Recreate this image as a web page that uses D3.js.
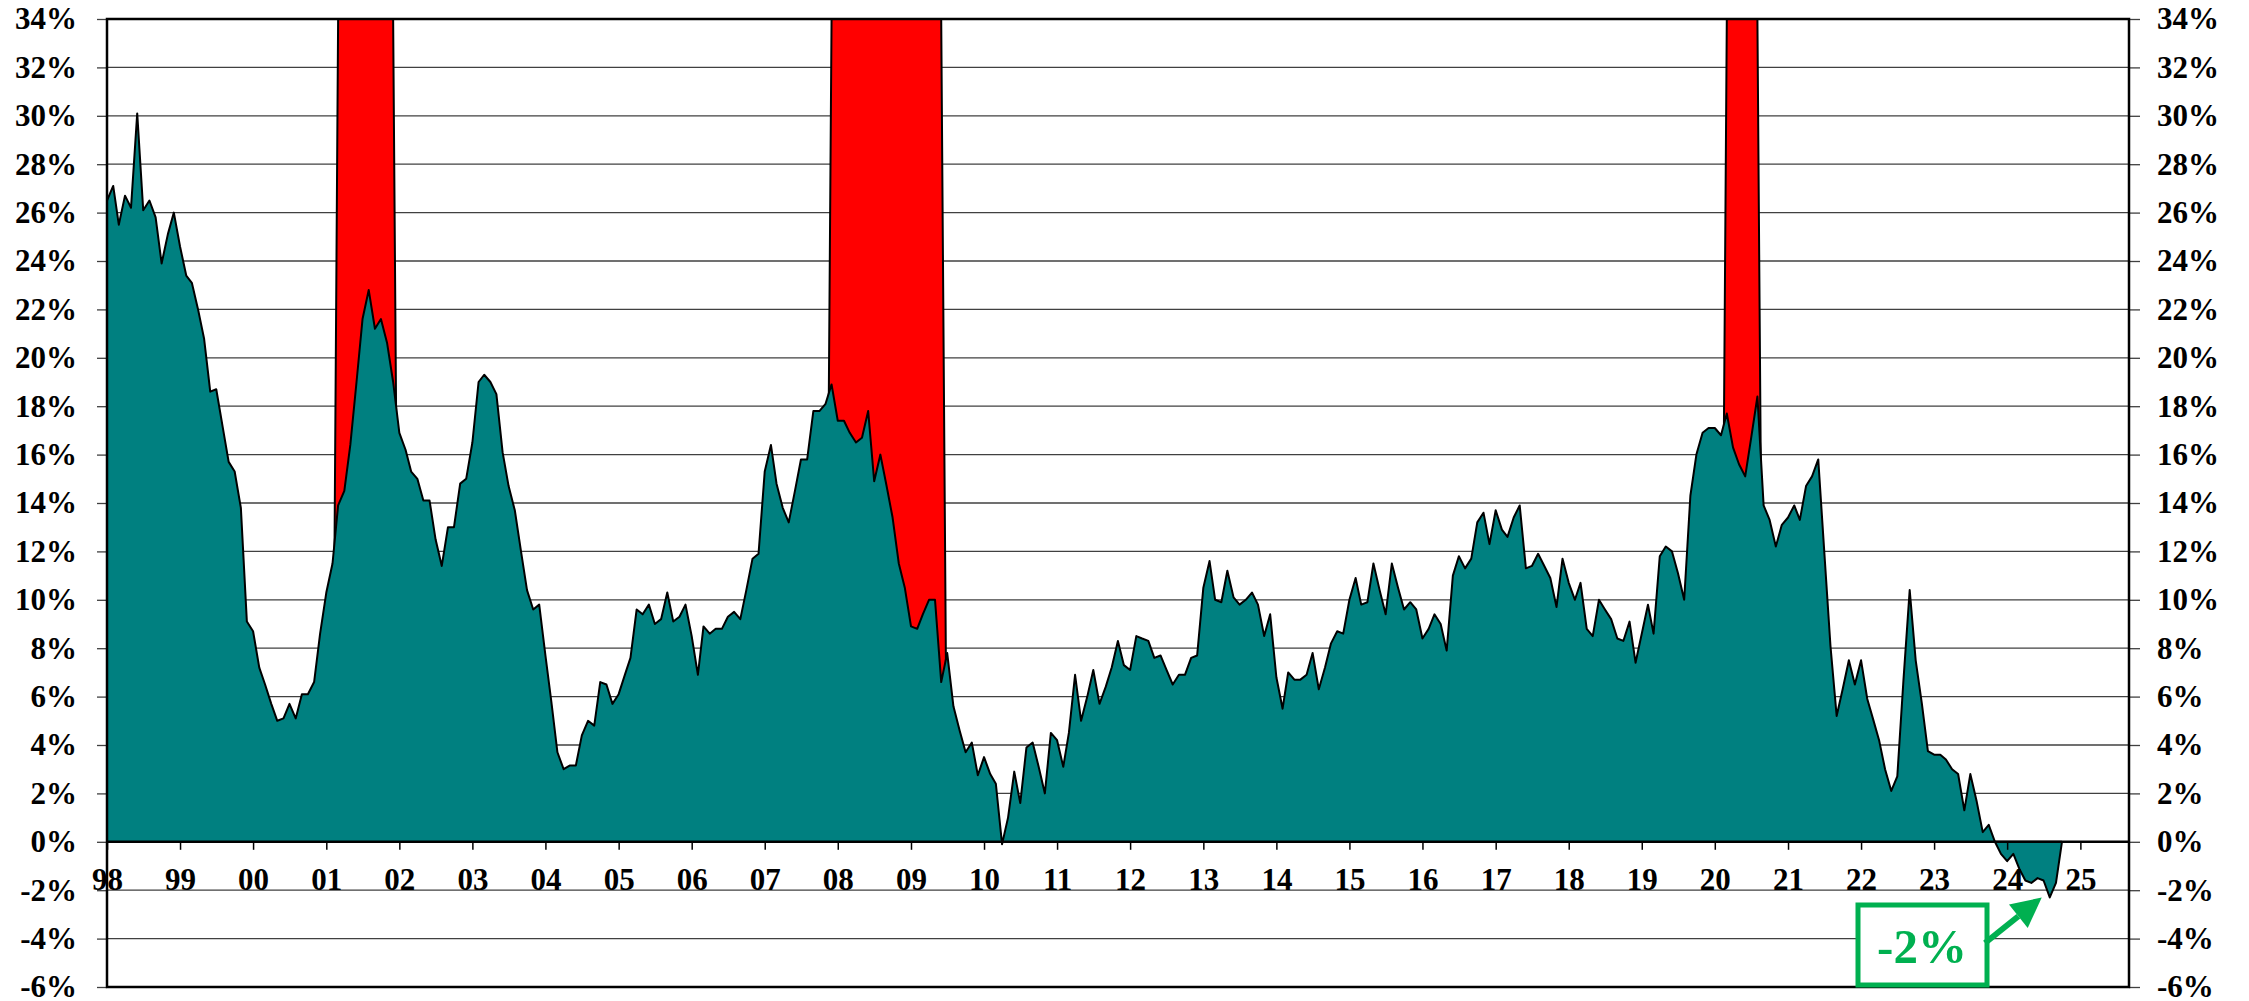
<!DOCTYPE html>
<html>
<head>
<meta charset="utf-8">
<script src="https://cdn.jsdelivr.net/npm/d3@7"></script>
<style>
  html, body { margin: 0; padding: 0; background: #fff; }
  svg { display: block; font-family: 'Liberation Serif', 'Times New Roman', serif; font-weight: bold; }
</style>
</head>
<body>
<svg id="chart" width="2249" height="1001"></svg>
<script>
// Monthly growth rate in %, starting Jan 1998, one row per year
const firstMonth = "1998-01";
const axisEnd = "2025-09";
const growth = [
  26.5, 27.1, 25.5, 26.7, 26.2, 30.1, 26.1, 26.5, 25.8, 23.9, 25.1, 26.0,
  24.6, 23.4, 23.1, 22.0, 20.8, 18.6, 18.7, 17.2, 15.7, 15.3, 13.8, 9.1,
  8.7, 7.2, 6.5, 5.7, 5.0, 5.1, 5.7, 5.1, 6.1, 6.1, 6.6, 8.6,
  10.3, 11.5, 13.9, 14.5, 16.4, 19.0, 21.6, 22.8, 21.2, 21.6, 20.6, 19.0,
  16.9, 16.2, 15.3, 15.0, 14.1, 14.1, 12.5, 11.4, 13.0, 13.0, 14.8, 15.0,
  16.5, 19.0, 19.3, 19.0, 18.5, 16.1, 14.7, 13.7, 12.0, 10.4, 9.6, 9.8,
  7.7, 5.7, 3.7, 3.0, 3.15, 3.15, 4.4, 5.0, 4.8, 6.6, 6.5, 5.7,
  6.1, 6.9, 7.6, 9.6, 9.4, 9.8, 9.0, 9.2, 10.3, 9.1, 9.3, 9.8,
  8.5, 6.9, 8.9, 8.6, 8.8, 8.8, 9.3, 9.5, 9.2, 10.4, 11.7, 11.9,
  15.3, 16.4, 14.8, 13.8, 13.2, 14.5, 15.8, 15.8, 17.8, 17.8, 18.1, 18.9,
  17.4, 17.4, 16.9, 16.5, 16.7, 17.8, 14.9, 16.0, 14.7, 13.4, 11.5, 10.5,
  8.9, 8.8, 9.4, 10.0, 10.0, 6.6, 7.8, 5.6, 4.6, 3.7, 4.1, 2.75,
  3.5, 2.8, 2.4, -0.1, 1.0, 2.9, 1.6, 3.9, 4.1, 3.1, 2.0, 4.5,
  4.2, 3.1, 4.5, 6.9, 5.0, 6.0, 7.1, 5.7, 6.4, 7.2, 8.3, 7.3,
  7.1, 8.5, 8.4, 8.3, 7.6, 7.7, 7.1, 6.5, 6.9, 6.9, 7.6, 7.7,
  10.5, 11.6, 10.0, 9.9, 11.2, 10.1, 9.8, 10.0, 10.3, 9.8, 8.5, 9.4,
  6.8, 5.5, 7.0, 6.7, 6.7, 6.9, 7.8, 6.3, 7.2, 8.2, 8.7, 8.6,
  10.0, 10.9, 9.8, 9.9, 11.5, 10.4, 9.4, 11.5, 10.5, 9.6, 9.9, 9.6,
  8.4, 8.8, 9.4, 9.0, 7.9, 11.0, 11.8, 11.3, 11.7, 13.2, 13.6, 12.3,
  13.7, 12.9, 12.6, 13.4, 13.9, 11.3, 11.4, 11.9, 11.4, 10.9, 9.7, 11.7,
  10.7, 10.0, 10.7, 8.8, 8.5, 10.0, 9.6, 9.2, 8.4, 8.3, 9.1, 7.4,
  8.6, 9.8, 8.6, 11.8, 12.2, 12.0, 11.1, 10.0, 14.3, 16.0, 16.9, 17.1,
  17.1, 16.8, 17.7, 16.3, 15.6, 15.1, 16.7, 18.4, 13.9, 13.3, 12.2, 13.1,
  13.4, 13.9, 13.3, 14.7, 15.1, 15.8, 12.0, 8.1, 5.2, 6.3, 7.5, 6.5,
  7.5, 5.9, 5.1, 4.2, 3.0, 2.1, 2.7, 6.7, 10.4, 7.5, 5.7, 3.75,
  3.6, 3.6, 3.4, 3.0, 2.8, 1.3, 2.8, 1.7, 0.4, 0.7, 0.0, -0.5,
  -0.8, -0.5, -1.1, -1.6, -1.7, -1.5, -1.6, -2.3, -1.7, 0.0
];

// Shaded periods (first and last month, inclusive)
const recessions = [["2001-03", "2001-12"], ["2007-12", "2009-06"], ["2020-03", "2020-08"]];

const yTicks = [-6, -4, -2, 0, 2, 4, 6, 8, 10, 12, 14, 16, 18, 20, 22, 24, 26, 28, 30, 32, 34];
const calloutText = "-2%";

const W = 2249, H = 1001;
const margin = { top: 19, right: 120, bottom: 14, left: 107 };
const innerW = W - margin.left - margin.right;
const innerH = H - margin.top - margin.bottom;

const parseMonth = d3.timeParse("%Y-%m");
const start = parseMonth(firstMonth);

const data = growth.map((v, i) => ({ date: d3.timeMonth.offset(start, i), value: v }));
const inRecession = d => recessions.some(([a, b]) => d >= parseMonth(a) && d <= parseMonth(b));

const x = d3.scaleTime().domain([start, parseMonth(axisEnd)]).range([0, innerW]);
const y = d3.scaleLinear().domain([yTicks[0], yTicks[yTicks.length - 1]]).range([innerH, 0]);

const svg = d3.select("#chart");
const g = svg.append("g").attr("transform", `translate(${margin.left},${margin.top})`);

g.append("clipPath").attr("id", "plot-clip")
  .append("rect").attr("width", innerW).attr("height", innerH);

// horizontal gridlines
g.append("g").attr("class", "grid")
  .selectAll("line").data(yTicks.slice(1, -1)).join("line")
  .attr("x1", 0).attr("x2", innerW)
  .attr("y1", d => y(d)).attr("y2", d => y(d))
  .attr("stroke", "#404040").attr("stroke-width", 1.3);

const plot = g.append("g").attr("clip-path", "url(#plot-clip)");

// red recession band: runs up to the top of the scale
const topVal = y.domain()[1];
const redArea = d3.area().x(d => x(d.date)).y0(y(0)).y1(d => y(inRecession(d.date) ? topVal : 0));
const redLine = d3.line().x(d => x(d.date)).y(d => y(inRecession(d.date) ? topVal : 0));
plot.append("path").datum(data).attr("d", redArea).attr("fill", "#ff0000");
plot.append("path").datum(data).attr("d", redLine)
  .attr("fill", "none").attr("stroke", "#000").attr("stroke-width", 2).attr("stroke-linejoin", "round");

// teal growth area
const area = d3.area().x(d => x(d.date)).y0(y(0)).y1(d => y(d.value));
const line = d3.line().x(d => x(d.date)).y(d => y(d.value));
plot.append("path").datum(data).attr("d", area).attr("fill", "#008080");
plot.append("path").datum(data).attr("d", line)
  .attr("fill", "none").attr("stroke", "#000").attr("stroke-width", 2).attr("stroke-linejoin", "round");

// x axis sits on the 0% line
const years = d3.timeYear.range(start, d3.timeDay.offset(parseMonth(axisEnd), 1));
const xAxis = d3.axisBottom(x).tickValues(years).tickFormat(d3.timeFormat("%y")).tickSize(8);
const xg = g.append("g").attr("transform", `translate(0,${y(0)})`).call(xAxis)
  .attr("font-family", null).attr("font-size", 31);
xg.select(".domain").remove();
xg.selectAll(".tick line").attr("stroke", "#000").attr("stroke-width", 1.5);
xg.selectAll(".tick text").attr("y", 48).attr("dy", 0).attr("fill", "#000");

g.append("line")
  .attr("x1", 0).attr("x2", innerW).attr("y1", y(0)).attr("y2", y(0))
  .attr("stroke", "#000").attr("stroke-width", 2.5);

// y axes, left and right
const fmt = d => `${d}%`;
const yl = g.append("g").call(d3.axisLeft(y).tickValues(yTicks).tickFormat(fmt).tickSize(10).tickPadding(20));
const yr = g.append("g").attr("transform", `translate(${innerW},0)`)
  .call(d3.axisRight(y).tickValues(yTicks).tickFormat(fmt).tickSize(11).tickPadding(17));
[yl, yr].forEach(ax => {
  ax.attr("font-family", null).attr("font-size", 31);
  ax.select(".domain").remove();
  ax.selectAll(".tick line").attr("stroke", "#404040").attr("stroke-width", 1.3);
  ax.selectAll(".tick text").attr("fill", "#000");
});

// plot frame
g.append("rect").attr("width", innerW).attr("height", innerH)
  .attr("fill", "none").attr("stroke", "#000").attr("stroke-width", 2.5);

// callout for the latest low
const low = d3.least(data, d => d.value);
const green = "#00b050";
const tip = [margin.left + x(low.date) - 8, margin.top + y(low.value)];
const tail = [1985, 943];

const box = svg.append("g");
box.append("rect").attr("x", 1858).attr("y", 905).attr("width", 129).attr("height", 80)
  .attr("fill", "#fff").attr("stroke", green).attr("stroke-width", 5);
box.append("text").attr("x", 1922).attr("y", 963).attr("text-anchor", "middle")
  .attr("font-size", 49).attr("fill", green).text(calloutText);

const ang = Math.atan2(tip[1] - tail[1], tip[0] - tail[0]);
const headLen = 30, headW = 15;
const base = [tip[0] - headLen * Math.cos(ang), tip[1] - headLen * Math.sin(ang)];
box.append("line")
  .attr("x1", tail[0]).attr("y1", tail[1]).attr("x2", base[0]).attr("y2", base[1])
  .attr("stroke", green).attr("stroke-width", 6);
box.append("path")
  .attr("d", `M${tip[0]},${tip[1]}L${base[0] - headW * Math.sin(ang)},${base[1] + headW * Math.cos(ang)}L${base[0] + headW * Math.sin(ang)},${base[1] - headW * Math.cos(ang)}Z`)
  .attr("fill", green);
</script>
</body>
</html>
